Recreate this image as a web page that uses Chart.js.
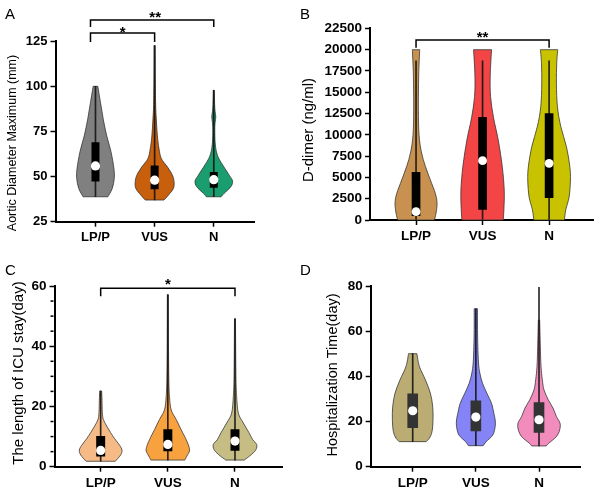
<!DOCTYPE html>
<html><head><meta charset="utf-8">
<script src="https://cdn.jsdelivr.net/npm/chart.js@4.4.1/dist/chart.umd.min.js"></script>
<style>
html,body{margin:0;padding:0;background:#fff;}
#wrap{position:relative;width:600px;height:493px;overflow:hidden;background:#fff;}
canvas.panel{position:absolute;}
.letter{position:absolute;font:15px "Liberation Sans",Arial,sans-serif;line-height:15px;color:#000;}
</style></head><body>
<div id="wrap">
  <canvas id="cA" class="panel" width="300" height="250" style="left:0;top:0"></canvas>
  <canvas id="cB" class="panel" width="300" height="250" style="left:300px;top:0"></canvas>
  <canvas id="cC" class="panel" width="300" height="243" style="left:0;top:250px"></canvas>
  <canvas id="cD" class="panel" width="300" height="243" style="left:300px;top:250px"></canvas>
  <div class="letter" style="left:5px;top:5.5px">A</div>
  <div class="letter" style="left:300px;top:5.5px">B</div>
  <div class="letter" style="left:5px;top:262px">C</div>
  <div class="letter" style="left:300px;top:262px">D</div>
</div>
<script>
const FONT = '"Liberation Sans", Arial, sans-serif';
Chart.defaults.font.family = FONT;
Chart.defaults.color = '#000';

const categories = ['LP/P', 'VUS', 'N'];

// ---------- Panel A : Aortic Diameter Maximum ----------
const aTitle = 'Aortic Diameter Maximum (mm)';
const aTicks = [25, 50, 75, 100, 125];
const aViolinLPP = [[38.8,37],[43.4,50],[49,56],[54.5,55],[64,46],[73,33],[82,23],[91,15],[100,7]];
const aViolinVUS = [[37,28],[39.7,41],[43.4,56],[47.1,58],[50.8,53],[55.4,38],[60,20],[65.5,13],[73,8],[82,5],[90,3],[105,2],[122.6,1.5]];
const aViolinN   = [[38.8,22],[40.7,31],[44.4,51],[47.5,56],[50.8,46],[55.4,30],[60,15],[63.7,8],[69,4],[76,3],[80,4],[83,6],[86,4],[90,2.5],[97.8,1.5]];
const aMin    = [38.8, 37, 38.8];
const aQ1     = [47.5, 43.2, 44];
const aMedian = [55.9, 48, 48.3];
const aQ3     = [68.9, 55.9, 52.3];
const aMax    = [100, 122.6, 97.8];
const aBrackets = [[0, 1, '*'], [0, 2, '**']];

// ---------- Panel B : D-dimer ----------
const bTitle = 'D-dimer (ng/ml)';
const bTicks = [0, 2500, 5000, 7500, 10000, 12500, 15000, 17500, 20000, 22500];
const bViolinLPP = [[0,55],[800,60],[2000,63],[3100,58],[4700,43],[6300,28],[8000,16],[10000,9],[13000,7],[17000,8],[20000,11]];
const bViolinVUS = [[0,62],[1200,64],[3500,65],[6300,59],[9400,47],[12000,33],[14500,24],[17000,23],[20000,27]];
const bViolinN   = [[0,46],[1200,50],[2700,60],[4700,64],[6300,62],[8600,52],[11000,35],[13300,25],[16000,22],[18500,23],[20000,26]];
const bMin    = [0, 0, 0];
const bQ1     = [500, 1250, 2620];
const bMedian = [980, 6970, 6650];
const bQ3     = [5600, 12050, 12500];
const bMax    = [18700, 18700, 18700];
const bBrackets = [[0, 2, '**']];

// ---------- Panel C : ICU stay ----------
const cTitle = 'The length of ICU stay(day)';
const cTicks = [0, 20, 40, 60];
const cViolinLPP = [[1.8,44],[3.9,60],[5.5,64],[7.1,57],[9.3,42],[11.3,30],[13.5,18],[15.7,8],[18,5],[22,4],[25.1,3]];
const cViolinVUS = [[2.2,51],[3.5,57],[5.2,65],[6.8,63],[9,55],[12.3,40],[15.7,25],[18.9,10],[23.3,5],[29,3],[40,2],[57.1,1.5]];
const cViolinN   = [[2.2,28],[4.1,50],[5.7,63],[7.4,65],[9,53],[11.3,42],[14.5,25],[17.8,10],[23.3,5],[29,3],[40,2],[49.1,1.5]];
const cMin    = [1.8, 2.2, 2.2];
const cQ1     = [3.5, 5.2, 5.4];
const cMedian = [5.4, 7.4, 8.5];
const cQ3     = [10.1, 12.3, 12.3];
const cMax    = [25.1, 57.1, 49.1];
const cBrackets = [[0, 2, '*']];

// ---------- Panel D : Hospitalization time ----------
const dTitle = 'Hospitalization Time(day)';
const dTicks = [0, 20, 40, 60, 80];
const dViolinLPP = [[11.1,40],[12.6,50],[15.6,58],[20.8,61],[26.7,60],[32.6,53],[38.5,38],[44.5,20],[50.1,12.5]];
const dViolinVUS = [[9.3,22],[11.1,31],[14.1,51],[17.8,58],[20.7,58],[23.7,54],[28.1,47],[32.6,33],[37,20],[41.5,12],[46,8],[53.4,6],[60.8,5],[70,5]];
const dViolinN   = [[9.2,22],[10.4,29],[13.3,52],[16.3,62],[19.3,63],[22.3,52],[26,42],[29.6,28],[34,15],[38.5,10],[44.5,6],[53.4,4],[65,2]];
const dMin    = [11.1, 9.3, 9.2];
const dQ1     = [17.3, 15.9, 15.2];
const dMedian = [24.8, 22, 20.8];
const dQ3     = [32.3, 29.2, 28.4];
const dMax    = [50.1, 70, 79.5];
const dBrackets = [];

// ---------- plugins ----------
function smooth(ctx, p) {
  for (let i = 0; i < p.length - 1; i++) {
    const p0 = p[i - 1] || p[i], p1 = p[i], p2 = p[i + 1], p3 = p[i + 2] || p2;
    ctx.bezierCurveTo(
      p1[0] + (p2[0] - p0[0]) / 6, p1[1] + (p2[1] - p0[1]) / 6,
      p2[0] - (p3[0] - p1[0]) / 6, p2[1] - (p3[1] - p1[1]) / 6,
      p2[0], p2[1]);
  }
}
const violinPlugin = {
  id: 'violins',
  beforeDatasetsDraw(chart, args, o) {
    const ctx = chart.ctx, xs = chart.scales.x, ys = chart.scales.y;
    ctx.save();
    o.profiles.forEach((prof, i) => {
      const c = i + 1;
      const L = prof.map(([v, d]) => [xs.getPixelForValue(c - d * o.unit), ys.getPixelForValue(v)]);
      const R = prof.map(([v, d]) => [xs.getPixelForValue(c + d * o.unit), ys.getPixelForValue(v)]).reverse();
      ctx.beginPath();
      ctx.moveTo(L[0][0], L[0][1]);
      smooth(ctx, L);
      ctx.lineTo(R[0][0], R[0][1]);
      smooth(ctx, R);
      ctx.closePath();
      ctx.fillStyle = o.colors[i];
      ctx.fill();
      ctx.lineWidth = 1;
      ctx.strokeStyle = o.stroke;
      ctx.stroke();
    });
    ctx.restore();
  }
};
const bracketPlugin = {
  id: 'brackets',
  afterDraw(chart, args, o) {
    if (!o.items || !o.items.length) return;
    const ctx = chart.ctx, xs = chart.scales.x;
    ctx.save();
    ctx.strokeStyle = '#000'; ctx.fillStyle = '#000'; ctx.lineWidth = 1.5;
    ctx.font = 'bold 15px ' + FONT; ctx.textAlign = 'center'; ctx.textBaseline = 'alphabetic';
    o.items.forEach(([a, b, label], k) => {
      const s = o.style[k];
      const x1 = xs.getPixelForValue(a + 1) + (s.dx1 || 0);
      const x2 = xs.getPixelForValue(b + 1);
      ctx.beginPath();
      ctx.moveTo(x1, s.y + s.tick); ctx.lineTo(x1, s.y); ctx.lineTo(x2, s.y); ctx.lineTo(x2, s.y + s.tick);
      ctx.stroke();
      ctx.fillText(label, (x1 + x2) / 2 + (s.dxText || 0), s.textY);
    });
    ctx.restore();
  }
};
const yTitlePlugin = {
  id: 'yTitle',
  afterDraw(chart, args, o) {
    const ctx = chart.ctx;
    ctx.save();
    ctx.translate(o.x, o.y);
    ctx.rotate(-Math.PI / 2);
    ctx.font = o.size + 'px ' + FONT;
    ctx.fillStyle = '#000';
    ctx.textAlign = 'center'; ctx.textBaseline = 'middle';
    ctx.fillText(o.text, 0, 0);
    ctx.restore();
  }
};
const minorTickPlugin = {
  id: 'minorTicks',
  afterDraw(chart, args, o) {
    if (!o.step) return;
    const ctx = chart.ctx, ys = chart.scales.y, left = chart.chartArea.left;
    ctx.save(); ctx.strokeStyle = '#000'; ctx.lineWidth = 1.5;
    for (let v = ys.min; v <= ys.max; v += o.step) {
      if (v % o.major === 0) continue;
      const py = ys.getPixelForValue(v);
      ctx.beginPath(); ctx.moveTo(left - 1, py); ctx.lineTo(left - 4, py); ctx.stroke();
    }
    ctx.restore();
  }
};

function makePanel(cfg) {
  const L = cfg.layout;
  const pts = arr => arr.map((v, i) => ({x: i + 1, y: v}));
  const rng = (a, b) => a.map((v, i) => ({x: i + 1, y: [v, b[i]]}));
  const step = cfg.ticks[1] - cfg.ticks[0];
  const gridOpt = {display: true, drawOnChartArea: false, drawTicks: true, tickLength: 5, tickColor: '#000', tickWidth: 1.5, offset: false};
  const borderOpt = {display: true, color: '#000', width: 2};
  const tickFont = {size: L.tickSize, weight: 'bold', family: FONT};
  return new Chart(document.getElementById(cfg.id), {
    type: 'bar',
    data: {
      datasets: [
        {type: 'scatter', data: pts(cfg.median), pointRadius: L.dot, pointHoverRadius: L.dot,
         backgroundColor: '#fff', borderWidth: 0, order: 1},
        {type: 'bar', data: rng(cfg.q1, cfg.q3), backgroundColor: L.boxColor, barThickness: L.boxW,
         grouped: false, order: 2},
        {type: 'bar', data: rng(cfg.min, cfg.max), backgroundColor: 'rgba(20,20,20,0.9)', barThickness: 1,
         grouped: false, order: 3}
      ]
    },
    options: {
      responsive: false, animation: false, events: [],
      layout: {padding: {left: 0, top: L.top, right: L.right, bottom: 0}},
      plugins: {
        legend: {display: false}, tooltip: {enabled: false},
        violins: {profiles: cfg.violins, colors: cfg.colors, unit: L.unit, stroke: 'rgba(45,45,45,0.75)'},
        brackets: {items: cfg.brackets, style: L.brackets},
        yTitle: {text: cfg.title, x: L.titleX, y: L.titleY, size: L.titleSize},
        minorTicks: {step: L.minor || 0, major: step}
      },
      scales: {
        x: {
          type: 'linear', min: L.xmin, max: L.xmax, offset: false,
          afterBuildTicks: s => { s.ticks = categories.map((c, i) => ({value: i + 1})); },
          afterFit: s => { s.height = L.xh; },
          ticks: {callback: (v, i) => categories[i], font: tickFont, color: '#000', padding: 3,
                  maxRotation: 0, autoSkip: false},
          grid: gridOpt, border: borderOpt
        },
        y: {
          type: 'linear', min: cfg.ticks[0], max: cfg.ticks[cfg.ticks.length - 1], offset: false,
          afterFit: s => { s.width = L.yw; },
          ticks: {stepSize: step, callback: v => String(v), font: tickFont, color: '#000', padding: 3},
          grid: gridOpt, border: borderOpt
        }
      }
    },
    plugins: [violinPlugin, bracketPlugin, yTitlePlugin, minorTickPlugin]
  });
}

makePanel({
  id: 'cA', title: aTitle, ticks: aTicks,
  violins: [aViolinLPP, aViolinVUS, aViolinN],
  min: aMin, q1: aQ1, median: aMedian, q3: aQ3, max: aMax, brackets: aBrackets,
  colors: ['#808080', '#c75f0c', '#1b9e6f'],
  layout: {top: 41.2, right: 46, yw: 55.5, xh: 28.3, xmin: 0.324, xmax: 3.68, unit: 1 / 176.5,
           tickSize: 13, dot: 4.6, boxW: 7.3, boxColor: '#000',
           titleX: 13, titleY: 143, titleSize: 12.5,
           brackets: [{y: 33, tick: 9, textY: 36.5, dx1: -5}, {y: 20, tick: 7, textY: 22, dx1: -5, dxText: 3}]}
});
makePanel({
  id: 'cB', title: bTitle, ticks: bTicks,
  violins: [bViolinLPP, bViolinVUS, bViolinN],
  min: bMin, q1: bQ1, median: bMedian, q3: bQ3, max: bMax, brackets: bBrackets,
  colors: ['#c8914f', '#f34545', '#c9c200'],
  layout: {top: 28.4, right: 7, yw: 70, xh: 30, xmin: 0.308, xmax: 3.66, unit: 1 / 199.5,
           tickSize: 13.5, dot: 4.4, boxW: 8, boxColor: '#000',
           titleX: 9, titleY: 130, titleSize: 15,
           brackets: [{y: 40, tick: 7.7, textY: 41.5}]}
});
makePanel({
  id: 'cC', title: cTitle, ticks: cTicks,
  violins: [cViolinLPP, cViolinVUS, cViolinN],
  min: cMin, q1: cQ1, median: cMedian, q3: cQ3, max: cMax, brackets: cBrackets,
  colors: ['#f6ba86', '#f8a13f', '#c6bd84'],
  layout: {top: 36, right: 18, yw: 54.5, xh: 26.3, xmin: 0.3125, xmax: 3.70, unit: 1 / 201.6,
           tickSize: 13.5, dot: 4.6, boxW: 8.3, boxColor: '#000', minor: 5,
           titleX: 19, titleY: 123, titleSize: 15,
           brackets: [{y: 38.3, tick: 8, textY: 39}]}
});
makePanel({
  id: 'cD', title: dTitle, ticks: dTicks,
  violins: [dViolinLPP, dViolinVUS, dViolinN],
  min: dMin, q1: dQ1, median: dMedian, q3: dQ3, max: dMax, brackets: dBrackets,
  colors: ['#baac72', '#8484f6', '#f28cbd'],
  layout: {top: 36.2, right: 19.5, yw: 70.7, xh: 26.3, xmin: 0.335, xmax: 3.657, unit: 1 / 189.5,
           tickSize: 13.5, dot: 4.6, boxW: 10, boxColor: '#333',
           titleX: 33, titleY: 125, titleSize: 14.5,
           brackets: []}
});
</script>
</body></html>
